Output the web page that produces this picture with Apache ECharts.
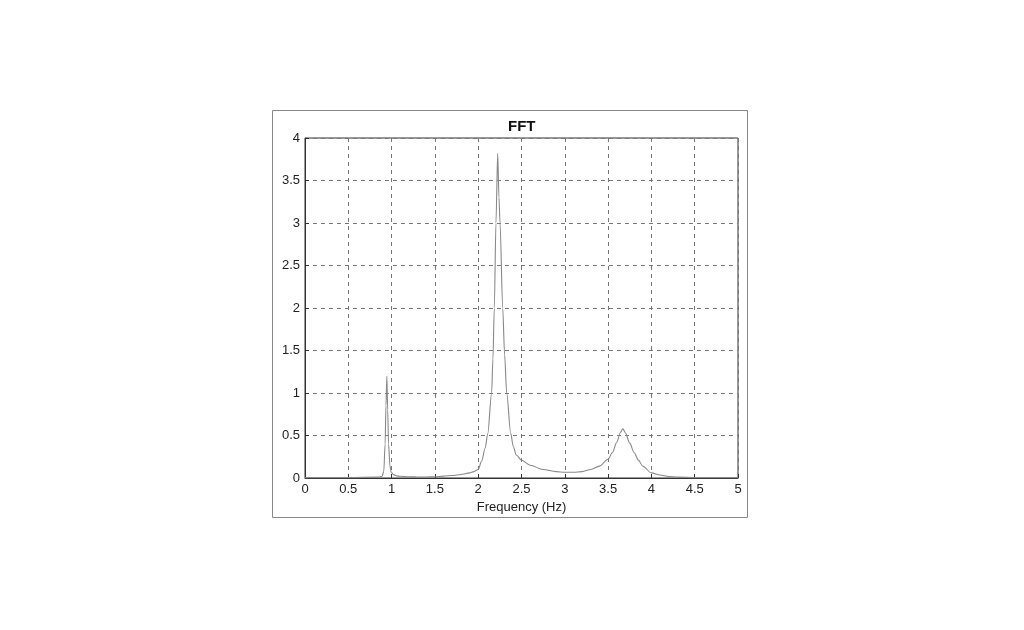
<!DOCTYPE html>
<html><head><meta charset="utf-8">
<script src="https://cdn.jsdelivr.net/npm/echarts@6/dist/echarts.min.js"></script>
<style>html,body{margin:0;padding:0;background:#fff}#c{width:1024px;height:630px}</style>
</head><body><div id="c"></div>
<script>
const freq = [0, 0.5, 0.85, 0.89, 0.91, 0.925, 0.935, 0.945, 0.955, 0.965, 0.98, 0.995, 1.02, 1.06, 1.1, 1.2, 1.3, 1.4, 1.5, 1.6, 1.7, 1.8, 1.9, 1.95, 2.0, 2.04, 2.08, 2.11, 2.155, 2.17, 2.186, 2.205, 2.225, 2.24, 2.252, 2.283, 2.305, 2.329, 2.375, 2.405, 2.44, 2.5, 2.6, 2.75, 2.9, 3.0, 3.1, 3.2, 3.3, 3.4, 3.5, 3.55, 3.6, 3.64, 3.67, 3.7, 3.75, 3.8, 3.85, 3.9, 4.0, 4.1, 4.2, 4.3, 4.5, 5.0];
const amp = [0.005, 0.005, 0.01, 0.02, 0.08, 0.4, 0.85, 1.2, 0.8, 0.4, 0.15, 0.07, 0.04, 0.025, 0.02, 0.015, 0.012, 0.012, 0.015, 0.022, 0.03, 0.042, 0.06, 0.075, 0.1, 0.2, 0.35, 0.52, 1.0, 1.4, 2.0, 3.0, 3.82, 3.3, 3.0, 2.0, 1.45, 1.0, 0.53, 0.37, 0.27, 0.21, 0.15, 0.1, 0.075, 0.068, 0.068, 0.075, 0.1, 0.14, 0.22, 0.3, 0.42, 0.53, 0.58, 0.53, 0.41, 0.3, 0.21, 0.14, 0.06, 0.035, 0.018, 0.01, 0.005, 0.005];
const title = 'FFT';
const xLabel = 'Frequency (Hz)';
const data = freq.map((f, i) => [f, amp[i]]);
const chart = echarts.init(document.getElementById('c'));
const font = 'Liberation Sans, Arial, sans-serif';
chart.setOption({
  animation: false,
  backgroundColor: '#fff',
  graphic: [{type: 'rect', shape: {x: 272.5, y: 110.5, width: 475, height: 407}, style: {fill: 'none', stroke: '#888', lineWidth: 1}, z: -1}],
  title: {text: title, left: 503, top: 114, textStyle: {fontFamily: font, fontSize: 15, fontWeight: 'bold', color: '#111'}},
  grid: {left: 305, top: 138, width: 433, height: 340, show: true, borderColor: '#333', borderWidth: 1, backgroundColor: 'transparent'},
  xAxis: {type: 'value', min: 0, max: 5, interval: 0.5, name: xLabel, nameLocation: 'middle', nameGap: 22,
    nameTextStyle: {fontFamily: font, fontSize: 13, color: '#222'},
    axisLine: {show: true, lineStyle: {color: '#333'}}, axisTick: {show: true, inside: true, length: 4, lineStyle: {color: '#333'}},
    axisLabel: {fontFamily: font, fontSize: 13, color: '#222', margin: 5},
    splitLine: {show: true, lineStyle: {type: [4, 4], color: '#777', width: 1}}},
  yAxis: {type: 'value', min: 0, max: 4, interval: 0.5,
    axisLine: {show: true, lineStyle: {color: '#333'}}, axisTick: {show: true, inside: true, length: 4, lineStyle: {color: '#333'}},
    axisLabel: {fontFamily: font, fontSize: 13, color: '#222', margin: 5},
    splitLine: {show: true, lineStyle: {type: [4, 4], color: '#777', width: 1}}},
  series: [{type: 'line', data: data, showSymbol: false, smooth: 0.3, smoothMonotone: 'x', lineStyle: {color: '#888', width: 1.1}}]
});
</script></body></html>
